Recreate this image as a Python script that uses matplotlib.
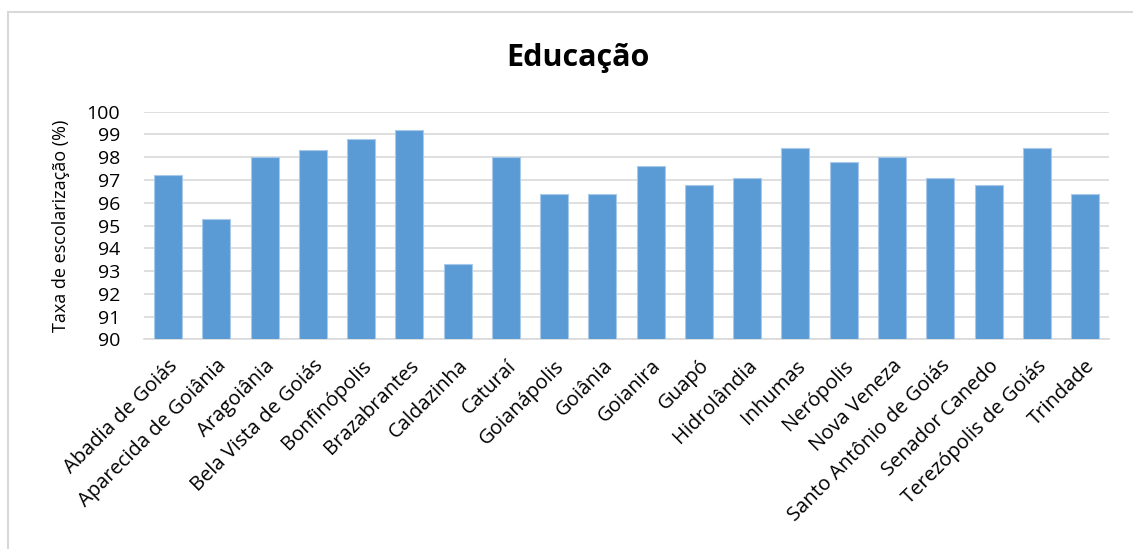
import numpy as np
import matplotlib.pyplot as plt
from matplotlib.patches import Rectangle

# municipios e taxa de escolarizacao
municipios = ['Abadia de Goiás', 'Aparecida de Goiânia', 'Aragoiânia', 'Bela Vista de Goiás',
              'Bonfinópolis', 'Brazabrantes', 'Caldazinha', 'Caturaí', 'Goianápolis', 'Goiânia',
              'Goianira', 'Guapó', 'Hidrolândia', 'Inhumas', 'Nerópolis', 'Nova Veneza',
              'Santo Antônio de Goiás', 'Senador Canedo', 'Terezópolis de Goiás', 'Trindade']
taxa = [97.2, 95.3, 98.0, 98.3, 98.8, 99.2, 93.3, 98.0, 96.4, 96.4,
        97.6, 96.8, 97.1, 98.4, 97.8, 98.0, 97.1, 96.8, 98.4, 96.4]
yticks = list(range(90, 101))

plt.rcParams['font.family'] = ['Open Sans', 'DejaVu Sans']

fig = plt.figure(figsize=(11.33, 5.49), dpi=100)
# moldura do grafico (sai pela direita e por baixo)
fig.patches.append(Rectangle((8 / 1133, -0.05), 1.2, 1.05 - 12 / 549, transform=fig.transFigure,
                             fill=False, edgecolor='#d9d9d9', linewidth=1.5))

ax = fig.add_axes([0.127, 0.382, 0.852, 0.4145])
x = np.arange(len(municipios))
ax.bar(x, taxa, width=0.58, color='#5b9bd5', edgecolor='#a9c9ea', linewidth=0.8, zorder=3)

ax.set_ylim(90, 100)
ax.set_xlim(-0.5, len(municipios) - 0.5)
ax.set_yticks(yticks)
ax.set_yticklabels([str(v) for v in yticks], fontsize=14)
ax.yaxis.grid(True, color='#d9d9d9', linewidth=1.2, zorder=0)
ax.set_xticks(x)
ax.set_xticklabels(municipios, rotation=45, ha='right', rotation_mode='anchor', fontsize=14.5)
ax.tick_params(axis='x', length=0, pad=12)
ax.tick_params(axis='y', length=0, pad=17)
for s in ['top', 'right', 'left']:
    ax.spines[s].set_visible(False)
ax.spines['bottom'].set_color('#d9d9d9')
ax.spines['bottom'].set_linewidth(1.2)

ax.set_ylabel('Taxa de escolarização (%)', fontsize=13, labelpad=12)
fig.text(0.51, 0.895, 'Educação', ha='center', va='center', fontsize=22, fontweight='bold')

plt.savefig('out.png', dpi=100)
